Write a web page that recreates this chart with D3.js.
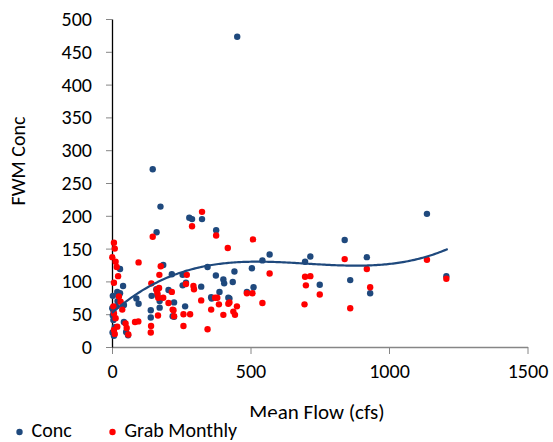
<!DOCTYPE html>
<html><head><meta charset="utf-8">
<script src="https://cdn.jsdelivr.net/npm/d3@7"></script>
<style>
html,body{margin:0;padding:0;background:#fff;}
text{font-family:Carlito,Calibri,Lato,sans-serif;fill:#000;}
</style></head>
<body><svg id="chart" width="553" height="442"></svg>
<script>
// Conc series: [Mean Flow (cfs), FWM Conc]
const concFlow = [147,175,279,289,325,376,161,29,185,216,255,345,375,402,405,442,436,40,3,88,96,143,160,204,255,267,322,358,420,224,172,172,140,140,219,264,487,43,51,388,424,360,505,543,569,697,716,750,511,840,920,860,932,1137,1207,452,19,29,43,1,5,7,58,164,224,5,3,10,2,15,20];
const concVal  = [271,214,197,195,195,178,175,119,125,111,110,122,109,103,97,115,99,93,78,74,66,78,88,87,94,98,92,76,75,68,70,60,56,45,47,62,84,38,23,84,74,74,120,132,141,130,138,95,91,163,137,102,82,203,108,473,84,82,64,59,41,17,18,79,46,55,48,30,22,62,70];
// Grab Monthly series
const grabFlow = [325,289,147,376,418,96,176,171,142,270,267,294,296,161,185,167,216,204,219,224,166,258,282,258,141,140,322,358,345,372,380,386,402,420,438,444,451,487,95,83,59,509,569,697,716,700,750,507,543,695,840,920,932,860,1137,1207,424,222,7,10,1,13,17,22,7,25,37,31,7,13,19,7,49,53,164,170,5,10];
const grabVal  = [206,184,168,170,151,129,123,110,97,110,96,93,88,87,75,75,84,67,57,47,48,50,50,32,32,22,71,57,27,75,75,65,49,66,54,49,62,82,39,38,19,164,112,107,108,94,80,82,67,65,134,119,91,59,133,104,68,56,159,150,137,130,122,108,98,77,57,69,51,44,31,26,36,29,82,90,62,20];
// Polynomial (cubic) trendline coefficients, x in thousands of cfs
const trendCoef = [52, 371.3, -564.6, 267.8];
const trendRange = [0, 1212];
const xTicks = [0, 500, 1000, 1500];
const yTicks = [0, 50, 100, 150, 200, 250, 300, 350, 400, 450, 500];
const seriesNames = ["Conc", "Grab Monthly"];
const seriesColors = ["#1F497D", "#FF0000"];

const svg = d3.select("#chart");
const x = d3.scaleLinear().domain([0, 1500]).range([112, 527.5]);
const y = d3.scaleLinear().domain([0, 500]).range([347, 19]);

// axes
const gx = svg.append("g").attr("transform", "translate(0,347)")
  .call(d3.axisBottom(x).tickValues(xTicks).tickFormat(d3.format("d")).tickSize(7).tickSizeOuter(0).tickPadding(10));
gx.select(".domain").attr("stroke", "#868686").attr("stroke-width", 1.3);
gx.selectAll(".tick line").attr("stroke", "#868686");
gx.selectAll(".tick text").style("font-size", "20px").attr("fill", "#000");

const gy = svg.append("g").attr("transform", "translate(112,0)")
  .call(d3.axisLeft(y).tickValues(yTicks).tickFormat(d3.format("d")).tickSize(6).tickSizeOuter(0).tickPadding(14));
gy.select(".domain").attr("stroke", "#000").attr("stroke-width", 1.3);
gy.selectAll(".tick line").attr("stroke", "#868686");
gy.selectAll(".tick text").style("font-size", "20px").attr("fill", "#000");

// points
const conc = concFlow.map((f, i) => [f, concVal[i]]);
const grab = grabFlow.map((f, i) => [f, grabVal[i]]);
svg.append("g").selectAll("circle").data(conc).join("circle")
  .attr("cx", d => x(d[0])).attr("cy", d => y(d[1])).attr("r", 3.2).attr("fill", seriesColors[0]);
svg.append("g").selectAll("circle").data(grab).join("circle")
  .attr("cx", d => x(d[0])).attr("cy", d => y(d[1])).attr("r", 3.2).attr("fill", seriesColors[1]);

// trendline
const poly = v => { const u = v / 1000; return trendCoef[0] + trendCoef[1]*u + trendCoef[2]*u*u + trendCoef[3]*u*u*u; };
const tx = d3.range(trendRange[0], trendRange[1] + 1, 6);
svg.append("path").datum(tx)
  .attr("d", d3.line().x(d => x(d)).y(d => y(poly(d))))
  .attr("fill", "none").attr("stroke", seriesColors[0]).attr("stroke-width", 2.2);

// axis titles
svg.append("text").attr("x", 317).attr("y", 419).attr("text-anchor", "middle")
  .style("font-size", "21px").text("Mean Flow (cfs)");
svg.append("text").attr("transform", "translate(25,161) rotate(-90)").attr("text-anchor", "middle")
  .style("font-size", "20px").text("FWM Conc");

// legend (white box overlapping bottom of axis title)
const lg = svg.append("g");
lg.append("rect").attr("x", 0).attr("y", 417).attr("width", 277).attr("height", 25).attr("fill", "#fff");
const lx = [19.5, 112.5];
seriesNames.forEach((n, i) => {
  lg.append("circle").attr("cx", lx[i]).attr("cy", 432).attr("r", 3.2).attr("fill", seriesColors[i]);
  lg.append("text").attr("x", lx[i] + 12).attr("y", 437).style("font-size", "20px").text(n);
});
</script></body></html>
